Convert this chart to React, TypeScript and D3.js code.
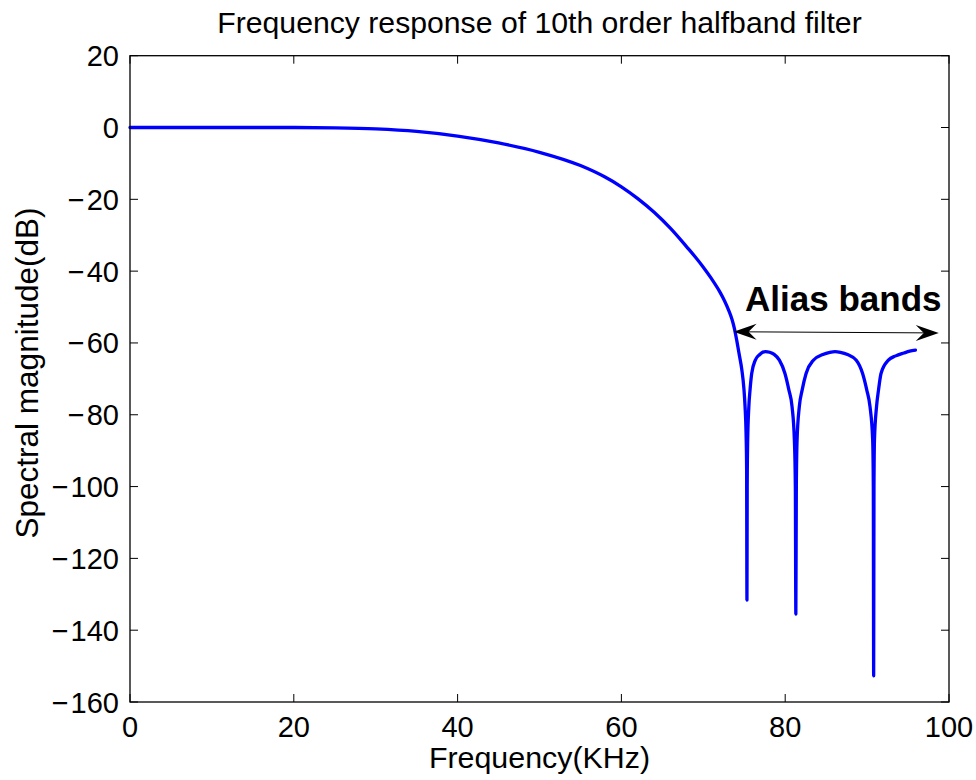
import React from "react";
import * as d3 from "d3";

const freq = [
  0, 10, 20, 25, 30, 35, 40, 45, 50, 55, 58, 60, 62, 64, 66, 68, 69, 70, 71, 72, 72.6,
  73.1, 73.5, 73.8, 74.1, 74.4, 74.7, 74.95, 75.1, 75.22, 75.29, 75.33,
  75.36, 75.42, 75.56, 75.71, 75.91, 76.35, 76.9, 77.25, 77.6, 78.1, 78.65,
  79.29, 79.97, 80.44, 80.84, 81.12, 81.24, 81.3,
  81.36, 81.45, 81.72, 82.08, 82.55, 83.44, 84.6, 85.45, 86.1, 86.74, 87.6,
  88.68, 89.45, 89.95, 90.36, 90.68, 90.76, 90.8,
  90.84, 90.9, 91.15, 91.4, 91.7, 92.6, 93.5, 94.5, 95.2, 95.9,
];
const magnitude = [
  0, 0, 0, -0.1, -0.4, -1.1, -2.4, -4.3, -6.9, -10.6, -13.8, -16.5, -19.8, -23.6, -28.1, -33.3, -36.0, -38.9, -42.1, -45.7, -48.3,
  -50.9, -53.4, -56.0, -59.5, -63.4, -67.4, -72.5, -77.8, -85, -95, -131.6,
  -100, -87, -77.8, -73, -68.5, -64.8, -63.2, -62.6, -62.4, -62.6, -63.2,
  -64.8, -68.5, -73, -77.8, -87, -100, -135.5,
  -100, -87, -77.8, -73, -68.5, -64.8, -63.2, -62.6, -62.4, -62.6, -63.2,
  -64.8, -68.5, -73, -77.8, -87, -100, -152.7,
  -100, -87, -77.8, -73, -68.5, -64.8, -63.6, -62.8, -62.3, -62.0,
];

const xTicks = [0, 20, 40, 60, 80, 100];
const yTicks = [20, 0, -20, -40, -60, -80, -100, -120, -140, -160];

const title = "Frequency response of 10th order halfband filter";
const xLabel = "Frequency(KHz)";
const yLabel = "Spectral magnitude(dB)";
const annotationText = "Alias bands";
const arrowStart = [73.7, -56.9];
const arrowEnd = [98.75, -57.2];
const annotationPos = [75.1, -51.1];

const W = 976;
const H = 780;
const left = 130;
const right = 949;
const top = 55.7;
const bottom = 702;

const FONT = "'Liberation Sans', Arial, Helvetica, sans-serif";

function YTickLabel({ v, yPos }: { v: number; yPos: number }) {
  if (v < 0) {
    return (
      <text x={119} y={yPos + 10.5} textAnchor="end" fontSize={29} fill="#000">
        <tspan>{"\u2212"}</tspan>
        <tspan dx={2}>{String(Math.abs(v))}</tspan>
      </text>
    );
  }
  return (
    <text x={119} y={yPos + 10.5} textAnchor="end" fontSize={29} fill="#000">
      {String(v)}
    </text>
  );
}

function ArrowHead({ x, y, dir }: { x: number; y: number; dir: number }) {
  const L = 23;
  const Wd = 8;
  const pts = [
    [x, y],
    [x - dir * L, y - Wd],
    [x - dir * L * 0.65, y],
    [x - dir * L, y + Wd],
  ];
  return <polygon points={pts.map((p) => p.join(",")).join(" ")} fill="#000" />;
}

export default function App() {
  const x = d3.scaleLinear().domain([0, 100]).range([left, right]);
  const y = d3.scaleLinear().domain([-160, 20]).range([bottom, top]);
  const pts: [number, number][] = freq.map((f, i) => [f, magnitude[i]]);
  const line = d3
    .line<[number, number]>()
    .x((d) => x(d[0]))
    .y((d) => y(d[1]))
    .curve(d3.curveMonotoneX);

  const ax1 = x(arrowStart[0]);
  const ay1 = y(arrowStart[1]);
  const ax2 = x(arrowEnd[0]);
  const ay2 = y(arrowEnd[1]);
  const tick = 8;

  return (
    <div style={{ position: "absolute", left: 0, top: 0 }}>
      <svg width={W} height={H} style={{ display: "block", background: "#fff" }} fontFamily={FONT}>
        <rect x={0} y={0} width={W} height={H} fill="#fff" />
        <text x={(left + right) / 2} y={33} textAnchor="middle" fontSize={30.2} fill="#000">
          {title}
        </text>
        {xTicks.map((t) => (
          <g key={"x" + t}>
            <line x1={x(t)} x2={x(t)} y1={bottom} y2={bottom - tick} stroke="#000" strokeWidth={1} />
            <line x1={x(t)} x2={x(t)} y1={top} y2={top + tick} stroke="#000" strokeWidth={1} />
            <text x={x(t)} y={737} textAnchor="middle" fontSize={29} fill="#000">
              {String(t)}
            </text>
          </g>
        ))}
        {yTicks.map((t) => (
          <g key={"y" + t}>
            <line x1={left} x2={left + tick} y1={y(t)} y2={y(t)} stroke="#000" strokeWidth={1} />
            <line x1={right} x2={right - tick} y1={y(t)} y2={y(t)} stroke="#000" strokeWidth={1} />
            <YTickLabel v={t} yPos={y(t)} />
          </g>
        ))}
        <path d={line(pts) || ""} fill="none" stroke="#0000ff" strokeWidth={3.3} strokeLinejoin="round" strokeLinecap="round" />
        <rect x={left} y={top} width={right - left} height={bottom - top} fill="none" stroke="#000" strokeWidth={1.3} />
        <line x1={ax1 + 10} y1={ay1} x2={ax2 - 10} y2={ay2} stroke="#000" strokeWidth={1} />
        <ArrowHead x={ax1} y={ay1} dir={-1} />
        <ArrowHead x={ax2} y={ay2} dir={1} />
        <text x={x(annotationPos[0])} y={y(annotationPos[1])} fontSize={35} fontWeight="bold" fill="#000">
          {annotationText}
        </text>
        <text x={(left + right) / 2} y={768} textAnchor="middle" fontSize={30.4} fill="#000">
          {xLabel}
        </text>
        <text transform={`translate(38, 373) rotate(-90)`} textAnchor="middle" fontSize={31.5} fill="#000">
          {yLabel}
        </text>
      </svg>
    </div>
  );
}
